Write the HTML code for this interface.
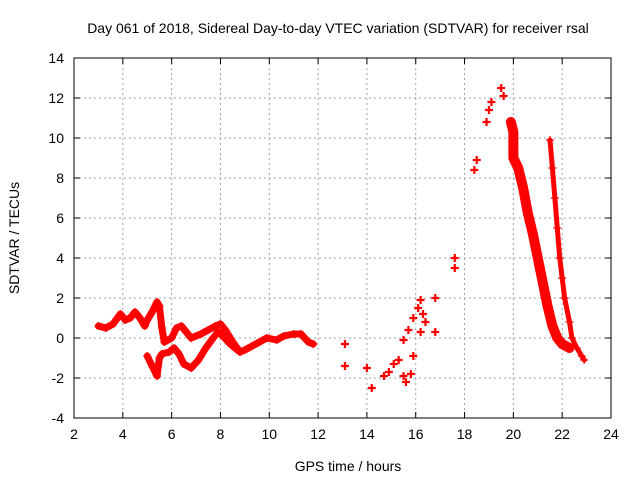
<!DOCTYPE html>
<html><head><meta charset="utf-8"><style>
body{margin:0;background:#fff}
svg{font-family:"Liberation Sans",sans-serif}
</style></head><body>
<svg width="640" height="480" id="chart">
<text x="338" y="33" text-anchor="middle" font-size="14">Day 061 of 2018, Sidereal Day-to-day VTEC variation (SDTVAR) for receiver rsal</text>
<text x="348" y="471" text-anchor="middle" font-size="14">GPS time / hours</text>
<text transform="translate(19,238) rotate(-90)" text-anchor="middle" font-size="14">SDTVAR / TECUs</text>
<g id="grid"></g>
<g id="axes"></g>
<g id="marks"></g>
</svg>
<script>
const xTicks=[2,4,6,8,10,12,14,16,18,20,22,24];
const yTicks=[-4,-2,0,2,4,6,8,10,12,14];
const trackA=[[3.0,0.6],[3.3,0.5],[3.6,0.7],[3.9,1.2],[4.1,0.9],[4.3,1.0],[4.5,1.3],[4.7,1.0],[4.9,0.6],[5.0,0.9],[5.2,1.3],[5.4,1.8],[5.5,1.6],[5.6,0.5],[5.7,-0.2],[6.0,0.0],[6.2,0.5],[6.4,0.6],[6.6,0.3],[6.8,0.0],[7.2,0.2],[7.5,0.4],[7.8,0.6],[8.0,0.7],[8.2,0.4],[8.5,-0.2],[8.8,-0.7],[9.0,-0.6],[9.3,-0.4],[9.6,-0.2],[9.9,0.0],[10.3,-0.1],[10.6,0.1],[11.0,0.2],[11.3,0.2],[11.6,-0.2],[11.8,-0.3]];
const trackB=[[5.0,-0.9],[5.2,-1.4],[5.4,-1.9],[5.5,-1.0],[5.6,-0.8],[5.9,-0.7],[6.1,-0.5],[6.3,-0.8],[6.5,-1.3],[6.8,-1.5],[7.1,-1.1],[7.4,-0.5],[7.7,0.0],[7.9,0.3],[8.1,0.1],[8.4,-0.3],[8.8,-0.7]];
const trackC=[[19.9,10.8],[20.0,10.3],[20.0,9.0],[20.2,8.5],[20.4,7.5],[20.6,6.2],[20.8,5.2],[21.0,4.0],[21.2,2.8],[21.4,1.6],[21.6,0.6],[21.8,0.0],[22.0,-0.3],[22.3,-0.5]];
const trackD=[[21.5,9.9],[21.6,8.5],[21.7,7.0],[21.8,5.5],[21.9,4.0],[22.0,3.0],[22.1,2.0],[22.3,0.8],[22.4,0.0],[22.6,-0.5],[22.8,-0.9],[22.9,-1.1]];
const scatter=[[13.1,-0.3],[13.1,-1.4],[14.0,-1.5],[14.2,-2.5],[14.7,-1.9],[14.9,-1.7],[15.1,-1.3],[15.3,-1.1],[15.5,-1.9],[15.6,-2.2],[15.8,-1.8],[15.9,-0.9],[15.5,-0.1],[15.7,0.4],[15.9,1.0],[16.1,1.5],[16.2,1.9],[16.3,1.2],[16.4,0.8],[16.2,0.3],[16.8,2.0],[16.8,0.3],[17.6,3.5],[17.6,4.0],[18.4,8.4],[18.5,8.9],[18.9,10.8],[19.0,11.4],[19.1,11.8],[19.5,12.5],[19.6,12.1]];
const NS="http://www.w3.org/2000/svg";
const X0=74,X1=611,Y0=418,Y1=58;
function sx(v){return X0+(v-2)/(24-2)*(X1-X0);}
function sy(v){return Y0-(v+4)/(14+4)*(Y0-Y1);}
function mk(tag,attrs,parent){const e=document.createElementNS(NS,tag);for(const k in attrs)e.setAttribute(k,attrs[k]);parent.appendChild(e);return e;}
const grid=document.getElementById('grid'),axes=document.getElementById('axes'),marks=document.getElementById('marks');
xTicks.forEach(t=>{const x=sx(t);
 if(t>2&&t<24){const g=mk('line',{x1:x,x2:x,y1:Y1,y2:Y0,stroke:'#a0a0a0','stroke-dasharray':'2,3'},grid);}
 mk('line',{x1:x,x2:x,y1:Y0,y2:Y0-6,stroke:'#000'},axes);mk('line',{x1:x,x2:x,y1:Y1,y2:Y1+6,stroke:'#000'},axes);
 const l=mk('text',{x:x,y:Y0+21,'text-anchor':'middle','font-size':'14'},axes);l.textContent=t;
 });
yTicks.forEach(t=>{const y=sy(t);
 if(t>-4&&t<14){const g=mk('line',{x1:X0,x2:X1,y1:y,y2:y,stroke:'#a0a0a0','stroke-dasharray':'2,3'},grid);}
 mk('line',{x1:X0,x2:X0+6,y1:y,y2:y,stroke:'#000'},axes);mk('line',{x1:X1,x2:X1-6,y1:y,y2:y,stroke:'#000'},axes);
 const l=mk('text',{x:X0-10,y:y+5,'text-anchor':'end','font-size':'14'},axes);l.textContent=t;
 });
const fr=mk('rect',{x:X0,y:Y1,width:X1-X0,height:Y0-Y1,fill:'none',stroke:'#000'},axes);

function plus(p,w){const x=sx(p[0]),y=sy(p[1]);
 const e=mk('path',{d:`M${x-4},${y}H${x+4}M${x},${y-4}V${y+4}`,stroke:'#f00','stroke-width':w||1.2},marks);
 }
function track(arr,name,w){const pl=mk('polyline',{points:arr.map(p=>sx(p[0])+','+sy(p[1])).join(' '),fill:'none',stroke:'#f00','stroke-width':w,'stroke-linejoin':'round','stroke-linecap':'round'},marks);
 arr.forEach(p=>plus(p));}
track(trackA,'series-track-a',7);track(trackB,'series-track-b',7);track(trackC,'series-track-c',10);track(trackD,'series-track-d',5);
scatter.forEach(p=>plus(p,2.2));
</script>
</body></html>
